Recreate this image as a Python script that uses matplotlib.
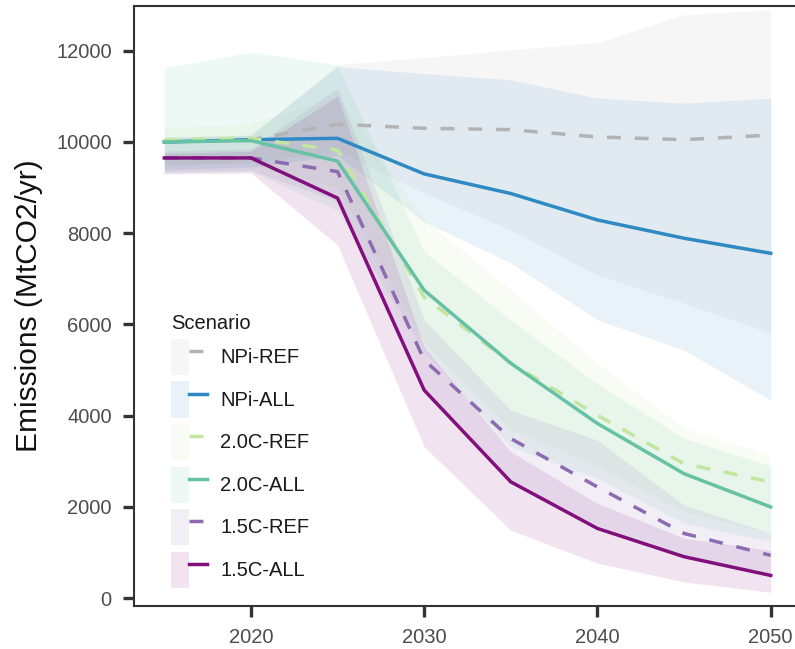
import matplotlib.pyplot as plt
from matplotlib.lines import Line2D
from matplotlib.patches import Patch
from matplotlib.legend_handler import HandlerLine2D, HandlerTuple

plt.rcParams['font.family'] = ['Liberation Sans', 'DejaVu Sans']

anos = [2015, 2020, 2025, 2030, 2035, 2040, 2045, 2050]

cenarios = ['NPi-REF', 'NPi-ALL', '2.0C-REF', '2.0C-ALL', '1.5C-REF', '1.5C-ALL']

# mediana e faixa (min - max) das emissoes de cada cenario, em MtCO2/yr
npi_ref_med = [10000, 10050, 10390, 10300, 10270, 10110, 10050, 10150]
npi_ref_min = [9500, 9550, 9800, 8880, 8070, 7080, 6470, 5810]
npi_ref_max = [10100, 10150, 11700, 11850, 12020, 12180, 12790, 12900]

npi_all_med = [10000, 10050, 10080, 9300, 8870, 8290, 7890, 7560]
npi_all_min = [9400, 9450, 9700, 8250, 7350, 6100, 5440, 4340]
npi_all_max = [10100, 10150, 11650, 11500, 11360, 10960, 10850, 10960]

c20_ref_med = [10050, 10080, 9820, 6600, 5150, 4010, 2950, 2550]
c20_ref_min = [9500, 9500, 9000, 5600, 3700, 2900, 1900, 1430]
c20_ref_max = [10300, 10400, 11000, 8300, 6750, 5150, 3730, 3130]

c20_all_med = [10000, 10030, 9580, 6750, 5150, 3830, 2730, 2000]
c20_all_min = [9320, 9350, 8500, 5400, 3320, 2630, 1645, 1240]
c20_all_max = [11620, 11970, 11690, 7600, 6100, 4700, 3500, 2900]

c15_ref_med = [9650, 9650, 9350, 5220, 3500, 2440, 1420, 940]
c15_ref_min = [9350, 9380, 8700, 4600, 2550, 1600, 906, 550]
c15_ref_max = [9800, 9850, 11180, 6100, 4120, 3465, 2040, 1425]

c15_all_med = [9650, 9650, 8770, 4560, 2550, 1530, 910, 500]
c15_all_min = [9300, 9320, 7740, 3320, 1490, 770, 357, 130]
c15_all_max = [9750, 9800, 11000, 5500, 3210, 2080, 1315, 1050]

medianas = [npi_ref_med, npi_all_med, c20_ref_med, c20_all_med, c15_ref_med, c15_all_med]
minimos = [npi_ref_min, npi_all_min, c20_ref_min, c20_all_min, c15_ref_min, c15_all_min]
maximos = [npi_ref_max, npi_all_max, c20_ref_max, c20_all_max, c15_ref_max, c15_all_max]

cores = ['#b3b3b3', '#2f8ac4', '#c2e6a0', '#66c2a5', '#8c6bb1', '#810f7c']
tracos = [(0, (4, 4)), '-', (0, (4, 4)), '-', (0, (4, 4)), '-']
alpha_faixa = 0.11
espessura = 2.5

fig = plt.figure(figsize=(7.95, 6.49), dpi=100)
ax = fig.add_axes([134 / 795, 1 - 606 / 649, 667 / 795, 600 / 649])

# faixas primeiro, linhas por cima
for cor, lo, hi in zip(cores, minimos, maximos):
    ax.fill_between(anos, lo, hi, color=cor, alpha=alpha_faixa, linewidth=0)

for cor, ls, med in zip(cores, tracos, medianas):
    ax.plot(anos, med, color=cor, linestyle=ls, linewidth=espessura)

ax.set_xlim(2013.25, 2051.75)
ax.set_ylim(-170, 12980)
ax.set_xticks([2020, 2030, 2040, 2050])
ax.set_yticks([0, 2000, 4000, 6000, 8000, 10000, 12000])

for lado in ['left', 'bottom', 'top', 'right']:
    ax.spines[lado].set_color('#333333')
    ax.spines[lado].set_linewidth(1.5)

ax.tick_params(axis='both', length=8, width=2.4, color='#333333',
               labelsize=14.5, labelcolor='#4d4d4d', pad=8)

ax.set_ylabel('Emissions (MtCO2/yr)', fontsize=21.5, color='#111111')
ax.yaxis.set_label_coords(-0.137, 0.5)

# legenda: faixa clara atras de cada linha
handles = []
for cor, ls in zip(cores, tracos):
    fundo = Patch(facecolor=cor, alpha=alpha_faixa, edgecolor='none')
    linha = Line2D([], [], color=cor, linestyle=ls, linewidth=espessura)
    handles.append((fundo, linha))

leg = ax.legend(handles, cenarios, title='Scenario', loc='lower left',
                bbox_to_anchor=(0.040, 0.0137), frameon=False, borderpad=0,
                fontsize=14.5, title_fontsize=14.5, alignment='left',
                handlelength=1.79, handleheight=2.38, labelspacing=0.32,
                handletextpad=0.67,
                handler_map={tuple: HandlerTuple(ndivide=None, pad=0),
                             Line2D: HandlerLine2D(marker_pad=0)})
for t in leg.get_texts():
    t.set_color('#1a1a1a')
leg.get_title().set_color('#1a1a1a')

fig.savefig('out.png', dpi=100)
plt.close()
